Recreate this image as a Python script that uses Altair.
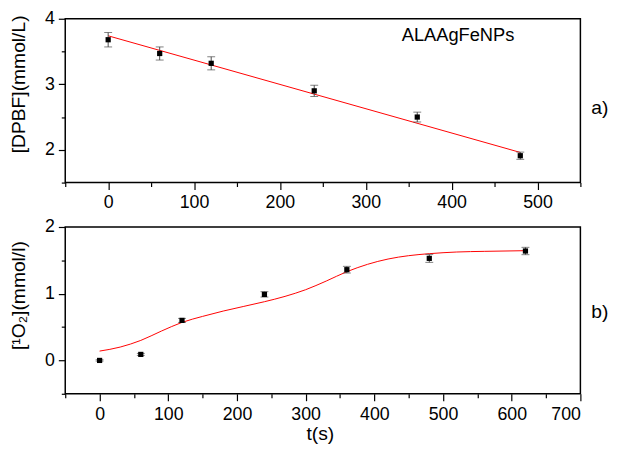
import altair as alt
import pandas as pd

# ---------------- data ----------------
# panel a) DPBF decay
t_a = [0, 60, 120, 240, 360, 480]
dpbf = [3.68, 3.47, 3.32, 2.90, 2.50, 1.91]
dpbf_err = [0.11, 0.10, 0.10, 0.085, 0.075, 0.055]
fit_a_t = [0, 480]
fit_a_v = [3.74, 1.96]

# panel b) singlet oxygen
t_b = [0, 60, 120, 240, 360, 480, 620]
o2 = [0.00, 0.09, 0.60, 0.99, 1.36, 1.53, 1.64]
o2_err = [0.01, 0.015, 0.03, 0.04, 0.05, 0.06, 0.055]
fit_b_t = [0, 30, 60, 90, 120, 150, 180, 210, 240, 270, 300, 330, 360, 390,
           420, 450, 480, 520, 560, 620]
fit_b_v = [0.14, 0.20, 0.30, 0.44, 0.57, 0.66, 0.74, 0.81, 0.88, 0.96, 1.06,
           1.19, 1.33, 1.44, 1.52, 1.57, 1.60, 1.625, 1.635, 1.645]

# axes
x_major_a = [0, 100, 200, 300, 400, 500]
x_minor_a = [-50, 50, 150, 250, 350, 450, 550]
y_major_a = [2, 3, 4]
y_minor_a = [1.5, 2.5, 3.5]
x_major_b = [0, 100, 200, 300, 400, 500, 600, 700]
x_minor_b = [-50, 50, 150, 250, 350, 450, 550, 650]
y_major_b = [0, 1, 2]
y_minor_b = [-0.5, 0.5, 1.5]

title_a = "[DPBF](mmol/L)"
title_b = "[\u00b9O\u2082](mmol/l)"
x_title = "t(s)"
sample_label = ["ALAAgFeNPs"]
panel_labels = ["a)", "b)"]

FONT = "Liberation Sans"
W = 522


def panel(t, v, err, ft, fv, xdom, ydom, xmaj, xmin, ymaj, ymin, ytitle,
          title_y, h, interp, plabel, plabel_y, xlabpad, xtitle=None):
    pts = pd.DataFrame({"t": t, "v": v,
                        "lo": [a - b for a, b in zip(v, err)],
                        "hi": [a + b for a, b in zip(v, err)]})
    fit = pd.DataFrame({"t": ft, "v": fv})
    xs = alt.Scale(domain=xdom, nice=False, zero=False)
    ys = alt.Scale(domain=ydom, nice=False, zero=False)

    xaxis_kw = dict(orient="bottom", values=xmaj, tickSize=7,
                    labelPadding=xlabpad, format="d")
    if xtitle:
        xaxis_kw.update(title=xtitle, titleX=258, titleY=31,
                        titleAlign="center", titleBaseline="top")
    major_x = alt.Axis(**xaxis_kw)
    major_y = alt.Axis(orient="left", values=ymaj, tickSize=7, labelPadding=4,
                       format="d", title=ytitle, titleX=-37, titleY=title_y,
                       titleAngle=-90, titleAlign="center",
                       titleBaseline="bottom")
    minor_x = alt.Axis(orient="bottom", values=xmin, tickSize=4, labels=False,
                       title=None)
    minor_y = alt.Axis(orient="left", values=ymin, tickSize=4, labels=False,
                       title=None)

    line = alt.Chart(fit).mark_line(color="#ff0000", strokeWidth=1,
                                    interpolate=interp).encode(
        x=alt.X("t:Q", scale=xs, axis=major_x,
                title=xtitle if xtitle else None),
        y=alt.Y("v:Q", scale=ys, axis=major_y),
    )
    bars = alt.Chart(pts).mark_rule(color="#4a4a4a", strokeWidth=1).encode(
        x=alt.X("t:Q", scale=xs, axis=minor_x),
        y=alt.Y("lo:Q", scale=ys, axis=minor_y),
        y2="hi:Q",
    )
    cap_lo = alt.Chart(pts).mark_tick(color="#4a4a4a", orient="horizontal",
                                      size=8, thickness=1).encode(
        x=alt.X("t:Q", scale=xs, axis=None),
        y=alt.Y("lo:Q", scale=ys, axis=None),
    )
    cap_hi = alt.Chart(pts).mark_tick(color="#4a4a4a", orient="horizontal",
                                      size=8, thickness=1).encode(
        x=alt.X("t:Q", scale=xs, axis=None),
        y=alt.Y("hi:Q", scale=ys, axis=None),
    )
    dots = alt.Chart(pts).mark_square(color="black", size=28, opacity=1).encode(
        x=alt.X("t:Q", scale=xs, axis=None),
        y=alt.Y("v:Q", scale=ys, axis=None),
    )
    plab = alt.Chart(pd.DataFrame({"s": [plabel]})).mark_text(
        align="left", baseline="middle", fontSize=19.5, font=FONT,
        color="black").encode(text="s:N", x=alt.value(533),
                              y=alt.value(plabel_y))
    layers = [line, bars, cap_lo, cap_hi, dots, plab]
    return layers, h


a_layers, ha = panel(t_a, dpbf, dpbf_err, fit_a_t, fit_a_v, [-50, 550],
                     [1.5, 4], x_major_a, x_minor_a, y_major_a, y_minor_a,
                     title_a, 66, 166, "linear", panel_labels[0], 90, 4)
sample = alt.Chart(pd.DataFrame({"s": sample_label})).mark_text(
    align="center", baseline="middle", fontSize=18.5, font=FONT,
    color="black").encode(text="s:N", x=alt.value(398), y=alt.value(17))
top = alt.layer(*a_layers, sample).resolve_axis(
    x="independent", y="independent").properties(width=W, height=ha)

b_layers, hb = panel(t_b, o2, o2_err, fit_b_t, fit_b_v, [-50, 700],
                     [-0.5, 2], x_major_b, x_minor_b, y_major_b, y_minor_b,
                     title_b, 69, 169, "monotone", panel_labels[1], 86, 5.5,
                     xtitle=x_title)
bottom = alt.layer(*b_layers).resolve_axis(
    x="independent", y="independent").properties(width=W, height=hb)

chart = alt.vconcat(top, bottom, spacing=45, bounds="flush").properties(
    padding={"top": -2, "left": 0, "right": 0, "bottom": -2}
).configure_axis(
    labelFont=FONT, titleFont=FONT, labelFontSize=18, titleFontSize=19.5,
    titleFontWeight="normal", labelColor="black", titleColor="black",
    tickColor="black", tickWidth=1.2, grid=False, domain=False,
).configure_view(stroke="black", strokeWidth=1.5)

chart.save("out.html", embed_options={"renderer": "svg", "actions": False})
